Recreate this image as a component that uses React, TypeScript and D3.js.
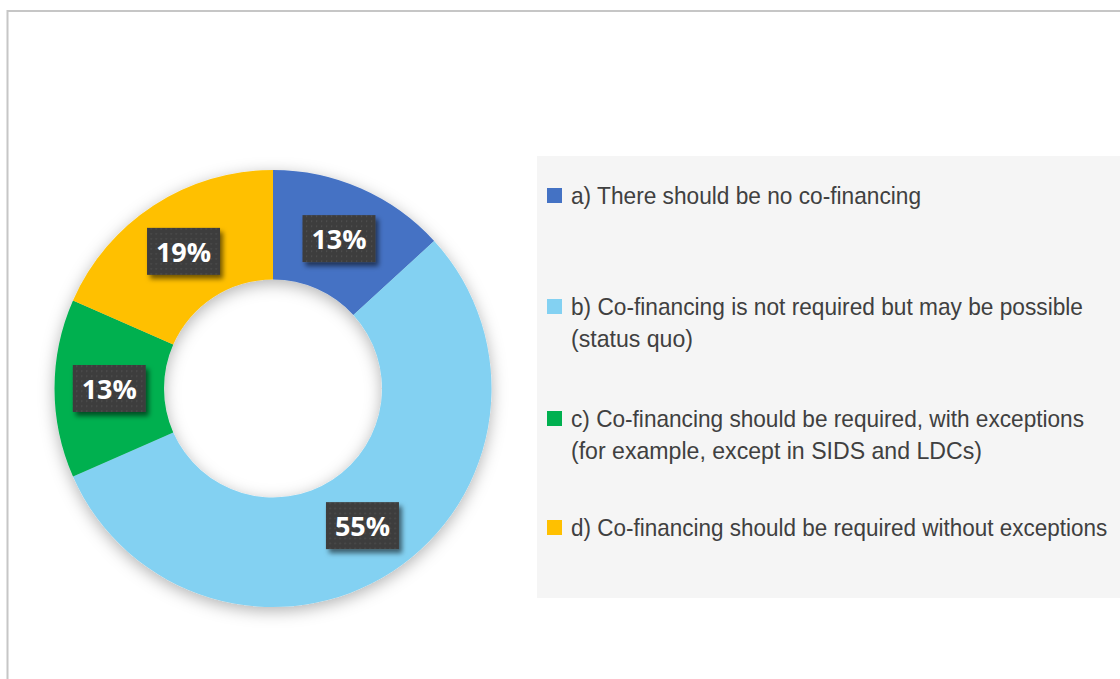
import React, { useLayoutEffect, useRef, useState } from "react";
import * as d3 from "d3";

// ---- data ----
const categories = [
  "a) There should be no co-financing",
  "b) Co-financing is not required but may be possible (status quo)",
  "c) Co-financing should be required, with exceptions (for example, except in SIDS and LDCs)",
  "d) Co-financing should be required without exceptions",
];
const shares = [13.2, 55.2, 13.2, 18.4];
const valueLabels = ["13%", "55%", "13%", "19%"];
const legendLines = [
  ["a) There should be no co-financing"],
  ["b) Co-financing is not required but may be possible", "(status quo)"],
  ["c) Co-financing should be required, with exceptions", "(for example, except in SIDS and LDCs)"],
  ["d) Co-financing should be required without exceptions"],
];
const colors = ["#4472C4", "#83D1F2", "#00B050", "#FFC000"];

// ---- layout ----
const W = 1120;
const H = 679;
const cx = 273;
const cy = 388.5;
const rOuter = 218.5;
const rInner = 109;
const legendX = 537;
const legendY = 156;
const legendH = 442;
const legendBaselines = [204, 315, 427, 536];
const lineGap = 32;
const legendWidths = [[350], [512, 122], [513, 411], [536]];

function FitText({ x, y, width, children }: { x: number; y: number; width: number; children: string }) {
  const ref = useRef<SVGTextElement>(null);
  const [sx, setSx] = useState(0.92);
  useLayoutEffect(() => {
    if (ref.current) {
      const natural = ref.current.getComputedTextLength();
      if (natural > 0) setSx(width / natural);
    }
  }, [width, children]);
  return (
    <text
      ref={ref}
      transform={`translate(${x},${y}) scale(${sx},1)`}
      fill="#404040"
      fontFamily="'Liberation Sans', Arial, sans-serif"
      fontSize={24}
    >
      {children}
    </text>
  );
}

export default function App() {
  const pie = d3
    .pie<number>()
    .value((d) => d)
    .sort(null)
    .startAngle(0)
    .endAngle(2 * Math.PI);
  const arcs = pie(shares);
  const arc = d3.arc<d3.PieArcDatum<number>>().innerRadius(rInner).outerRadius(rOuter);

  const boxW = 73;
  const boxH = 47;

  return (
    <svg
      width={W}
      height={H}
      style={{ position: "absolute", left: 0, top: 0, display: "block", background: "#fff" }}
    >
      <defs>
        <filter id="donutShadow" x="-30%" y="-30%" width="160%" height="160%">
          <feDropShadow dx="0" dy="4" stdDeviation="8" floodColor="#000" floodOpacity="0.3" />
        </filter>
        <filter id="boxShadow" x="-30%" y="-30%" width="160%" height="160%">
          <feDropShadow dx="3" dy="4" stdDeviation="2.5" floodColor="#000" floodOpacity="0.55" />
        </filter>
        <pattern id="dots" width="5" height="5" patternUnits="userSpaceOnUse">
          <rect width="5" height="5" fill="#3d3d3d" />
          <rect x="2" y="2" width="1.2" height="1.2" fill="#555555" />
        </pattern>
      </defs>

      <rect x={7.5} y={11} width={W + 20} height={H + 20} fill="#fff" stroke="#c6c6c6" strokeWidth={2} />

      <rect x={legendX} y={legendY} width={W - legendX + 10} height={legendH} fill="#f5f5f5" />

      <g transform={`translate(${cx},${cy})`}>
        <g filter="url(#donutShadow)">
          {arcs.map((a, i) => (
            <path key={i} d={arc(a) || ""} fill={colors[i]} />
          ))}
        </g>
        {arcs.map((a, i) => {
          const [lx, ly] = arc.centroid(a);
          return (
            <g key={"l" + i} transform={`translate(${lx},${ly})`}>
              <rect
                x={-boxW / 2}
                y={-boxH / 2}
                width={boxW}
                height={boxH}
                fill="url(#dots)"
                filter="url(#boxShadow)"
              />
              <text
                x={0}
                y={10.5}
                textAnchor="middle"
                fill="#fff"
                fontFamily="'Open Sans', 'DejaVu Sans', sans-serif"
                fontWeight="bold"
                fontSize={27}
              >
                {valueLabels[i]}
              </text>
            </g>
          );
        })}
      </g>

      <g>
        {legendLines.map((lines, i) => (
          <g key={categories[i]}>
            <rect x={547} y={legendBaselines[i] - 16} width={15} height={15} fill={colors[i]} />
            {lines.map((t, j) => (
              <FitText key={j} x={571} y={legendBaselines[i] + j * lineGap} width={legendWidths[i][j]}>
                {t}
              </FitText>
            ))}
          </g>
        ))}
      </g>
    </svg>
  );
}
